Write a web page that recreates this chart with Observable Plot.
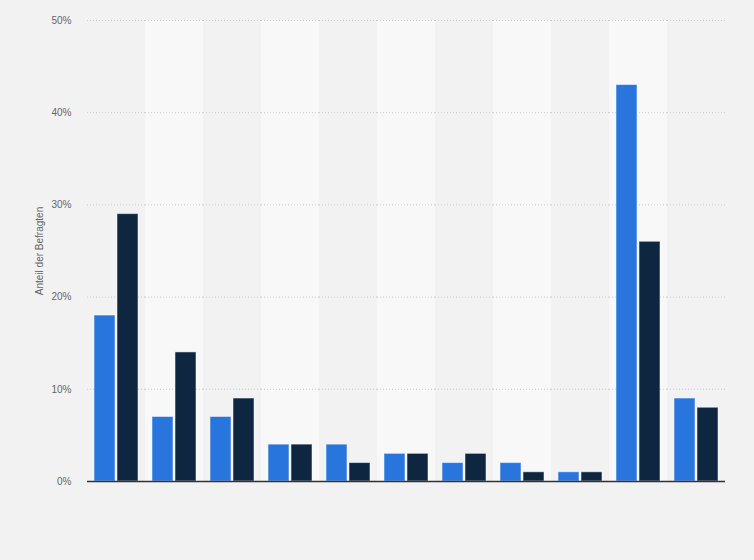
<!DOCTYPE html>
<html>
<head>
<meta charset="utf-8">
<script src="https://cdn.jsdelivr.net/npm/d3@7"></script>
<script src="https://cdn.jsdelivr.net/npm/@observablehq/plot@0.6"></script>
<style>
  html, body { margin: 0; padding: 0; background: #f2f2f2; }
  #chart { width: 754px; height: 560px; }
</style>
</head>
<body>
<div id="chart"></div>
<script>
const categories = ["1", "2", "3", "4", "5", "6", "7", "8", "9", "10", "11"];
const series = ["Serie A", "Serie B"];
const valuesA = [18, 7, 7, 4, 4, 3, 2, 2, 1, 43, 9];
const valuesB = [29, 14, 9, 4, 2, 3, 3, 1, 1, 26, 8];
const yTicks = [0, 10, 20, 30, 40, 50];

const data = categories.flatMap((c, i) => [
  {cat: c, s: series[0], v: valuesA[i]},
  {cat: c, s: series[1], v: valuesB[i]}
]);
const bands = categories.filter((d, i) => i % 2 === 1);

const chart = Plot.plot({
  width: 754,
  height: 560,
  marginLeft: 83,
  marginRight: 25,
  marginTop: 20,
  marginBottom: 79,
  style: {background: "#f2f2f2", fontFamily: "'Liberation Sans', Arial, sans-serif", fontSize: "10px", color: "#666"},
  fx: {domain: categories, padding: 0, axis: null},
  x: {domain: series, paddingInner: 0.083, paddingOuter: 0.25, axis: null},
  y: {domain: [0, 50], ticks: yTicks, tickFormat: d => d + "%", tickSize: 0, tickPadding: 16,
      label: "Anteil der Befragten", labelAnchor: "center", labelArrow: "none", labelOffset: 52},
  color: {domain: series, range: ["#2876dd", "#0f2640"]},
  marks: [
    Plot.barY(bands, {fx: d => d, y1: 0, y2: 50, fill: "#f8f8f8"}),
    Plot.ruleY(yTicks.slice(1), {stroke: "#cccccc", strokeDasharray: "1,2"}),
    Plot.barY(data, {fx: "cat", x: "s", y: "v", fill: "s", stroke: "#ffffff", strokeOpacity: 0.5, strokeWidth: 1}),
    Plot.ruleY([0], {stroke: "#333", strokeWidth: 1.5})
  ]
});
document.getElementById("chart").appendChild(chart);
</script>
</body>
</html>
